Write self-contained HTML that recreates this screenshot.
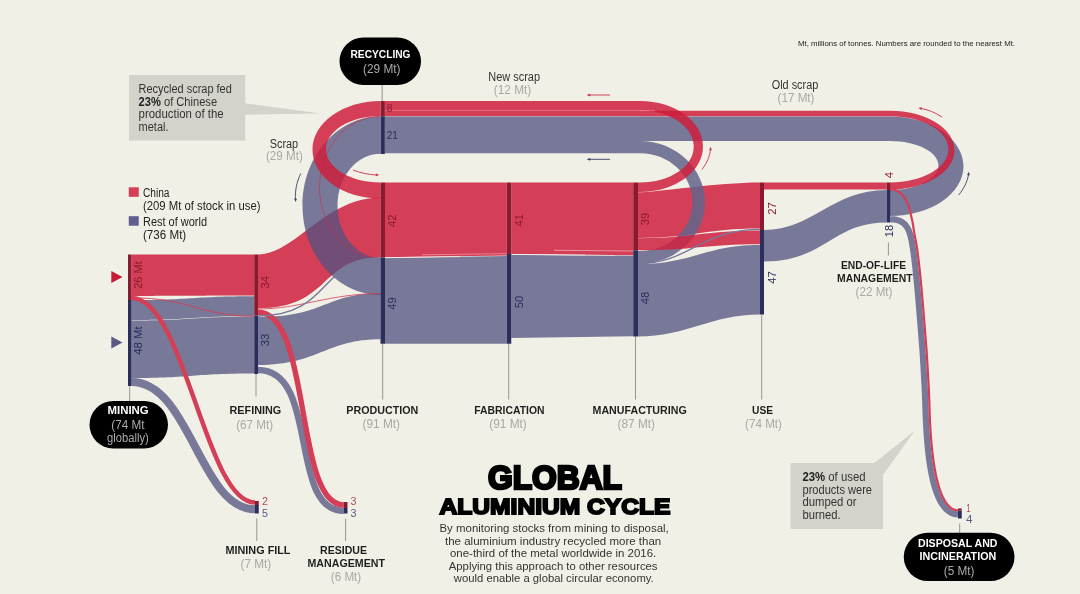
<!DOCTYPE html>
<html><head><meta charset="utf-8"><title>Global aluminium cycle</title>
<style>html,body{margin:0;padding:0;background:#f1f0e6;}svg{display:block;position:absolute;left:0;top:0;will-change:transform;}text{font-family:"Liberation Sans",sans-serif;}</style>
</head><body>
<div style="position:absolute;left:0;top:0;width:1080px;height:594px;background:#f1f0e6;"></div>
<svg width="1080" height="594" viewBox="0 0 1080 594">
<polygon points="245,103.2 320.8,113.6 245,114.7" fill="#d4d3cb"/>
<rect x="129" y="75" width="116.2" height="65.6" fill="#d4d3cb"/>
<polygon points="873.75,463.5 915,430.5 883,475" fill="#d4d3cb"/>
<rect x="790.5" y="463" width="92.5" height="66" fill="#d4d3cb"/>
<line x1="382.2" y1="85" x2="382.2" y2="101" stroke="#96968f" stroke-width="1"/>
<line x1="129.7" y1="386" x2="129.7" y2="401" stroke="#96968f" stroke-width="1"/>
<line x1="256" y1="374" x2="256" y2="396.5" stroke="#96968f" stroke-width="1"/>
<line x1="382.7" y1="343.75" x2="382.7" y2="399.5" stroke="#96968f" stroke-width="1"/>
<line x1="508.7" y1="343.75" x2="508.7" y2="399.5" stroke="#96968f" stroke-width="1"/>
<line x1="635.5" y1="336.5" x2="635.5" y2="399.5" stroke="#96968f" stroke-width="1"/>
<line x1="761.7" y1="314.5" x2="761.7" y2="399.5" stroke="#96968f" stroke-width="1"/>
<line x1="888.4" y1="242.5" x2="888.4" y2="255.5" stroke="#96968f" stroke-width="1"/>
<line x1="256.8" y1="518.5" x2="256.8" y2="541" stroke="#96968f" stroke-width="1"/>
<line x1="345.6" y1="518.5" x2="345.6" y2="541" stroke="#96968f" stroke-width="1"/>
<line x1="959.7" y1="523.5" x2="959.7" y2="533" stroke="#96968f" stroke-width="1"/>
<path d="M131.5,254.5 C192.88,254.5 192.88,254.5 254.25,254.5 L254.25,295.6 C192.88,295.6 192.88,296 131.5,296 Z" fill="#d43f57"/>
<path d="M131.5,300 C192.88,300 192.88,296.2 254.25,296.2 L254.25,316 C192.88,316 192.88,320 131.5,320 Z" fill="#787899"/>
<path d="M131.5,320.6 C192.88,320.6 192.88,316.6 254.25,316.6 L254.25,373.5 C192.88,373.5 192.88,378 131.5,378 Z" fill="#787899"/>
<path d="M258,254.5 C294.75,254.5 325.38,197.5 380.5,197.5 L380.5,257.3 C319.25,257.3 331.5,308.3 258,308.3 Z" fill="#d43f57"/>
<path d="M258,317 C325.38,317 325.38,293.3 380.5,293.3 L380.5,339.3 C325.38,339.3 319.25,365 258,365 Z" fill="#787899"/>
<path d="M385,182.5 L506.75,182.5 L506.75,255.4 L385,257.3 Z" fill="#d43f57"/>
<path d="M385,257.9 L506.75,256 L506.75,343.75 L385,343.75 Z" fill="#787899"/>
<path d="M511.25,182.5 L633.25,182.5 L633.25,255.3 L511.25,254 Z" fill="#d43f57"/>
<path d="M511.25,254.7 L633.25,255.8 L633.25,336.3 L511.25,338 Z" fill="#787899"/>
<path d="M638,192.3 C656.3,192.3 717.3,182.5 760,182.5 L760,228.6 C705.1,228.6 692.9,238 638,238 Z" fill="#d43f57"/>
<path d="M764,182.5 L886.75,182.5 L886.75,189.5 L764,189.5 Z" fill="#d43f57"/>
<path d="M764,230 C813.1,230 831.51,190 886.75,190 L886.75,222.5 C831.51,222.5 825.38,261.5 764,261.5 Z" fill="#787899"/>
<path d="M638,264 C692.9,264 705.1,245 760,245 L760,314.5 C711.2,314.5 686.8,336.5 638,336.5 Z" fill="#787899"/>
<path d="M385,257.7 L460,256.6" fill="none" stroke="#f1f0e6" stroke-width="0.8"/>
<path d="M422,254.8 L506.75,253.6" fill="none" stroke="#eeb0b8" stroke-width="0.6"/>
<path d="M511.25,254.4 L585,255.2" fill="none" stroke="#f1f0e6" stroke-width="0.9"/>
<path d="M585,255.2 L615,255.5" fill="none" stroke="#f1f0e6" stroke-width="0.5"/>
<path d="M554,250.3 L633.25,251" fill="none" stroke="#f0b9c0" stroke-width="0.7"/>
<path d="M640,116.5 L890,116.5 C930.59,116.5 963.5,138.77 963.5,166.25 C963.5,193.73 930.59,216 890,216 L890,216 L890,190 L890,190 C916.79,190 938.5,179.03 938.5,165.5 C938.5,151.97 916.79,141 890,141 L640,141 Z" fill="#525281" fill-opacity="0.76"/>
<path d="M640,110.8 L890,110.8 C925.62,110.8 954.5,128.42 954.5,150.15 C954.5,171.88 925.62,189.5 890,189.5 L890,189.5 L890,182.5 L890,182.5 C922.31,182.5 948.5,167.66 948.5,149.35 C948.5,131.04 922.31,116.2 890,116.2 L640,116.2 Z" fill="#ce1d3c" fill-opacity="0.84"/>
<path d="M640,141 L640,141 C675.9,141 705,168.44 705,202.3 C705,236.16 675.9,263.6 640,263.6 L638,263.6 L638,251 L640,251 C669,251 692.5,229.13 692.5,202.15 C692.5,175.17 669,153.3 640,153.3 L640,153.3 Z" fill="#64648c" fill-opacity="0.86"/>
<path d="M638,238.2 C692.9,238.2 705.1,230.6 760,230.6 L760,244.2 C705.1,244.2 692.9,250.3 638,250.3 Z" fill="#cf2240" fill-opacity="0.86"/>
<path d="M640,101 L640,101 C674.79,101 703,121.37 703,146.5 C703,171.63 674.79,192 640,192 L638,192 L638,182.5 L640,182.5 C669.69,182.5 693.75,166.36 693.75,146.45 C693.75,126.54 669.69,110.4 640,110.4 L640,110.4 Z" fill="#ce1d3c" fill-opacity="0.84"/>
<path d="M384.5,101 L640,101 L640,116.2 L384.5,116.2 Z" fill="#d43f57"/>
<path d="M384.5,110.55 L655,110.55" fill="none" stroke="#e98a98" stroke-width="0.6"/>
<path d="M384.5,116.6 L640,116.6 L640,153.3 L384.5,153.3 Z" fill="#787899"/>
<path d="M380.5,116.2 L380.5,116.2 C337.42,116.2 302.5,156.22 302.5,205.6 C302.5,254.98 337.42,295 380.5,295 L380.5,295 L380.5,257.7 L380.5,257.7 C356.75,257.7 337.5,234.44 337.5,205.75 C337.5,177.06 356.75,153.8 380.5,153.8 L380.5,153.8 Z" fill="#525281" fill-opacity="0.76"/>
<path d="M380.5,116.5 C346.81,116.5 319.5,148.17 319.5,187.25 C319.5,226.33 346.81,258 380.5,258" fill="none" stroke="#c8324a" stroke-width="0.8" stroke-opacity="0.85"/>
<path d="M380.5,101 L380.5,101 C342.94,101 312.5,122.85 312.5,149.8 C312.5,176.75 342.94,198.6 380.5,198.6 L380.5,198.6 L380.5,182.5 L380.5,182.5 C350.4,182.5 326,167.61 326,149.25 C326,130.89 350.4,116 380.5,116 L380.5,116 Z" fill="#ce1d3c" fill-opacity="0.84"/>
<path d="M131.5,382 C190,382 200,509.25 255,509.25" fill="none" stroke="#787899" stroke-width="8"/>
<path d="M131.5,298 C185,298 205,502.5 255,502.5" fill="none" stroke="#d43f57" stroke-width="4.5"/>
<path d="M258,370 C320,370 288,510.75 343.75,510.75" fill="none" stroke="#787899" stroke-width="6.5"/>
<path d="M258,312.3 C312,312.3 294,505 343.75,505" fill="none" stroke="#d43f57" stroke-width="5.4"/>
<path d="M890.25,219.25 L892.04,219.3 L893.72,219.43 L895.3,219.65 L896.77,219.95 L898.15,220.34 L899.44,220.8 L900.64,221.35 L901.76,221.96 L902.8,222.65 L903.76,223.41 L904.65,224.23 L905.47,225.12 L906.23,226.08 L906.92,227.09 L907.57,228.16 L908.16,229.29 L908.7,230.47 L909.2,231.7 L909.66,232.97 L910.08,234.3 L910.47,235.66 L910.84,237.07 L911.18,238.52 L911.5,240 L912.06,242.93 L912.61,246.21 L913.16,249.81 L913.7,253.7 L914.24,257.86 L914.77,262.25 L915.29,266.85 L915.8,271.63 L916.3,276.56 L916.79,281.62 L917.28,286.78 L917.75,292 L918.21,297.27 L918.67,302.55 L919.11,307.81 L919.54,313.04 L919.95,318.19 L920.36,323.25 L920.75,328.18 L921.13,332.96 L921.49,337.56 L921.84,341.95 L922.18,346.11 L922.5,350 L922.68,353.07 L922.86,356.05 L923.04,358.94 L923.21,361.74 L923.37,364.46 L923.53,367.11 L923.68,369.7 L923.83,372.22 L923.98,374.7 L924.11,377.13 L924.25,379.52 L924.38,381.88 L924.5,384.21 L924.61,386.52 L924.73,388.82 L924.83,391.11 L924.93,393.4 L925.03,395.7 L925.12,398.02 L925.21,400.35 L925.29,402.71 L925.36,405.1 L925.43,407.52 L925.5,410 L925.79,417.99 L926.16,425.71 L926.61,433.14 L927.14,440.3 L927.76,447.16 L928.47,453.72 L929.26,459.98 L930.15,465.93 L931.12,471.57 L932.2,476.88 L933.36,481.87 L934.62,486.52 L935.99,490.84 L937.45,494.82 L939.02,498.44 L940.69,501.7 L942.46,504.61 L944.34,507.14 L946.34,509.31 L948.44,511.09 L950.66,512.48 L952.99,513.49 L955.43,514.1 L958,514.3" fill="none" stroke="#787899" stroke-width="6.2"/>
<path d="M131.5,297.8 C190,297.8 200,316.3 254.25,316.3" fill="none" stroke="#d43f57" stroke-width="0.9"/>
<path d="M258,309 C300,309 330,293.5 380.5,293.5" fill="none" stroke="#d43f57" stroke-width="0.8"/>
<path d="M258,316 C331.5,316 319.25,258.3 380.5,258.3" fill="none" stroke="#787899" stroke-width="1.4"/>
<path d="M638,263.6 C690,263.6 700,229.4 760,229.4" fill="none" stroke="#787899" stroke-width="1.3"/>
<path d="M890.25,189.4 C900,189.4 906,197 909.5,208.7 C911.5,216 913.5,226 914.77,236.1 L915.13,237.63 L915.47,239.21 L916.05,242.22 L916.61,245.57 L917.17,249.23 L917.72,253.17 L918.26,257.36 L918.79,261.78 L919.31,266.41 L919.82,271.21 L920.33,276.16 L920.82,281.23 L921.31,286.4 L921.78,291.64 L922.25,296.92 L922.7,302.2 L923.14,307.48 L923.57,312.71 L923.99,317.87 L924.4,322.93 L924.79,327.86 L925.17,332.64 L925.53,337.24 L925.88,341.63 L926.22,345.78 L926.54,349.71 L926.73,352.83 L926.91,355.81 L927.08,358.69 L927.25,361.49 L927.42,364.22 L927.57,366.87 L927.73,369.46 L927.88,371.99 L928.02,374.47 L928.16,376.9 L928.29,379.3 L928.42,381.66 L928.54,384 L928.66,386.32 L928.77,388.63 L928.88,390.93 L928.98,393.23 L929.08,395.54 L929.17,397.86 L929.26,400.2 L929.34,402.57 L929.41,404.97 L929.48,407.41 L929.55,409.86 L929.84,417.82 L930.2,425.49 L930.65,432.87 L931.18,439.96 L931.79,446.76 L932.49,453.25 L933.28,459.43 L934.15,465.29 L935.11,470.82 L936.15,476.02 L937.29,480.88 L938.51,485.39 L939.82,489.54 L941.21,493.32 L942.68,496.72 L944.22,499.73 L945.82,502.35 L947.47,504.57 L949.15,506.39 L950.84,507.83 L952.55,508.9 L954.28,509.65 L956.08,510.1 L958.32,510.26" fill="none" stroke="#d43f57" stroke-width="2.2"/>
<rect x="128" y="254.5" width="3.5" height="45.5" fill="#8a1a30"/>
<rect x="128" y="300" width="3.5" height="86" fill="#2b2e5c"/>
<rect x="254.25" y="254.5" width="3.75" height="61" fill="#8a1a30"/>
<rect x="254.25" y="315.5" width="3.75" height="58.5" fill="#2b2e5c"/>
<rect x="380.5" y="182.5" width="4.5" height="75" fill="#8a1a30"/>
<rect x="380.5" y="257.5" width="4.5" height="86.25" fill="#2b2e5c"/>
<rect x="506.75" y="182.5" width="4.5" height="71.5" fill="#8a1a30"/>
<rect x="506.75" y="254" width="4.5" height="89.75" fill="#2b2e5c"/>
<rect x="633.25" y="182.5" width="4.75" height="67.8" fill="#8a1a30"/>
<rect x="633.25" y="250.3" width="4.75" height="86.2" fill="#2b2e5c"/>
<rect x="760" y="182.5" width="4" height="47.5" fill="#8a1a30"/>
<rect x="760" y="230" width="4" height="84.5" fill="#2b2e5c"/>
<rect x="886.75" y="182.5" width="3.5" height="7.5" fill="#8a1a30"/>
<rect x="886.75" y="190" width="3.5" height="32.5" fill="#2b2e5c"/>
<rect x="380.6" y="101" width="4.2" height="15.2" fill="#8a1a30"/>
<rect x="380.6" y="116.2" width="4.2" height="37.8" fill="#2b2e5c"/>
<rect x="255" y="501" width="3.75" height="4" fill="#8a1a30"/>
<rect x="255" y="505" width="3.75" height="8.5" fill="#2b2e5c"/>
<rect x="343.75" y="502" width="3.75" height="6" fill="#8a1a30"/>
<rect x="343.75" y="508" width="3.75" height="5.5" fill="#2b2e5c"/>
<rect x="958" y="508.5" width="3.75" height="2" fill="#8a1a30"/>
<rect x="958" y="510.5" width="3.75" height="8" fill="#2b2e5c"/>
<rect x="339.5" y="37.5" width="81.5" height="47.5" rx="23.75" ry="23.75" fill="#000"/>
<rect x="89.5" y="401" width="78.5" height="47.5" rx="23.75" ry="23.75" fill="#000"/>
<rect x="903.75" y="532.75" width="110.75" height="48.25" rx="24.12" ry="24.12" fill="#000"/>
<polygon points="111.3,271 122.5,277 111.3,283" fill="#c41a35"/>
<polygon points="111.3,336.5 122.5,342.5 111.3,348.5" fill="#5a5a85"/>
<rect x="128.75" y="187.3" width="10" height="9.5" fill="#d43f57"/>
<rect x="128.75" y="216.2" width="10" height="9.5" fill="#5f6090"/>
<g>
<text x="229.5" y="414.1" font-size="11.4" fill="#1e1e1e" font-weight="bold" textLength="51.75" lengthAdjust="spacingAndGlyphs">REFINING</text>
<text x="346.25" y="414.1" font-size="11.4" fill="#1e1e1e" font-weight="bold" textLength="72" lengthAdjust="spacingAndGlyphs">PRODUCTION</text>
<text x="474.25" y="414.1" font-size="11.4" fill="#1e1e1e" font-weight="bold" textLength="70.25" lengthAdjust="spacingAndGlyphs">FABRICATION</text>
<text x="592.5" y="414.1" font-size="11.4" fill="#1e1e1e" font-weight="bold" textLength="94.25" lengthAdjust="spacingAndGlyphs">MANUFACTURING</text>
<text x="752" y="414.1" font-size="11.4" fill="#1e1e1e" font-weight="bold" textLength="21" lengthAdjust="spacingAndGlyphs">USE</text>
<text x="225.5" y="553.6" font-size="11.4" fill="#1e1e1e" font-weight="bold" textLength="65" lengthAdjust="spacingAndGlyphs">MINING FILL</text>
<text x="320" y="553.6" font-size="11.4" fill="#1e1e1e" font-weight="bold" textLength="47" lengthAdjust="spacingAndGlyphs">RESIDUE</text>
<text x="307.5" y="566.6" font-size="11.4" fill="#1e1e1e" font-weight="bold" textLength="77.5" lengthAdjust="spacingAndGlyphs">MANAGEMENT</text>
<text x="841" y="269.1" font-size="11.4" fill="#1e1e1e" font-weight="bold" textLength="65" lengthAdjust="spacingAndGlyphs">END-OF-LIFE</text>
<text x="837" y="281.5" font-size="11.4" fill="#1e1e1e" font-weight="bold" textLength="75.5" lengthAdjust="spacingAndGlyphs">MANAGEMENT</text>
<text x="350.5" y="58.35" font-size="11.4" fill="#fff" font-weight="bold" textLength="60" lengthAdjust="spacingAndGlyphs">RECYCLING</text>
<text x="107.5" y="414.1" font-size="11.4" fill="#fff" font-weight="bold" textLength="41.25" lengthAdjust="spacingAndGlyphs">MINING</text>
<text x="918" y="546.9" font-size="11.4" fill="#fff" font-weight="bold" textLength="79.5" lengthAdjust="spacingAndGlyphs">DISPOSAL AND</text>
<text x="919.5" y="560.2" font-size="11.4" fill="#fff" font-weight="bold" textLength="76.75" lengthAdjust="spacingAndGlyphs">INCINERATION</text>
<text x="363" y="73" font-size="12" fill="#ababab" textLength="37.5" lengthAdjust="spacingAndGlyphs">(29 Mt)</text>
<text x="111.25" y="428.75" font-size="12" fill="#ababab" textLength="33.25" lengthAdjust="spacingAndGlyphs">(74 Mt</text>
<text x="107" y="442" font-size="12" fill="#ababab" textLength="41.75" lengthAdjust="spacingAndGlyphs">globally)</text>
<text x="943.75" y="575.3" font-size="12" fill="#ababab" textLength="30.75" lengthAdjust="spacingAndGlyphs">(5 Mt)</text>
<text x="236.25" y="428.5" font-size="12" fill="#a8a8a4" textLength="36.75" lengthAdjust="spacingAndGlyphs">(67 Mt)</text>
<text x="362.5" y="428" font-size="12" fill="#a8a8a4" textLength="37.5" lengthAdjust="spacingAndGlyphs">(91 Mt)</text>
<text x="489.25" y="428" font-size="12" fill="#a8a8a4" textLength="37.5" lengthAdjust="spacingAndGlyphs">(91 Mt)</text>
<text x="617.5" y="428" font-size="12" fill="#a8a8a4" textLength="37.5" lengthAdjust="spacingAndGlyphs">(87 Mt)</text>
<text x="745" y="428" font-size="12" fill="#a8a8a4" textLength="37" lengthAdjust="spacingAndGlyphs">(74 Mt)</text>
<text x="240.5" y="568" font-size="12" fill="#a8a8a4" textLength="30.75" lengthAdjust="spacingAndGlyphs">(7 Mt)</text>
<text x="330.75" y="581" font-size="12" fill="#a8a8a4" textLength="30.5" lengthAdjust="spacingAndGlyphs">(6 Mt)</text>
<text x="855.5" y="296" font-size="12" fill="#a8a8a4" textLength="37" lengthAdjust="spacingAndGlyphs">(22 Mt)</text>
<text x="493.75" y="93.5" font-size="12" fill="#a8a8a4" textLength="37.5" lengthAdjust="spacingAndGlyphs">(12 Mt)</text>
<text x="777.5" y="101.6" font-size="12" fill="#a8a8a4" textLength="37" lengthAdjust="spacingAndGlyphs">(17 Mt)</text>
<text x="266" y="160" font-size="12" fill="#a8a8a4" textLength="36.8" lengthAdjust="spacingAndGlyphs">(29 Mt)</text>
<text x="488.25" y="80.75" font-size="12" fill="#333" textLength="51.75" lengthAdjust="spacingAndGlyphs">New scrap</text>
<text x="771.75" y="88.75" font-size="12" fill="#333" textLength="46.5" lengthAdjust="spacingAndGlyphs">Old scrap</text>
<text x="269.7" y="148.2" font-size="12" fill="#333" textLength="28.5" lengthAdjust="spacingAndGlyphs">Scrap</text>
<text x="143" y="196.75" font-size="12" fill="#222" textLength="26.5" lengthAdjust="spacingAndGlyphs">China</text>
<text x="143" y="210" font-size="12" fill="#222" textLength="117.5" lengthAdjust="spacingAndGlyphs">(209 Mt of stock in use)</text>
<text x="143" y="225.5" font-size="12" fill="#222" textLength="64" lengthAdjust="spacingAndGlyphs">Rest of world</text>
<text x="143" y="238.75" font-size="12" fill="#222" textLength="43.25" lengthAdjust="spacingAndGlyphs">(736 Mt)</text>
<text x="138.6" y="93.1" font-size="12" fill="#333" textLength="93.2" lengthAdjust="spacingAndGlyphs">Recycled scrap fed</text>
<text x="138.6" y="105.75" font-size="12" fill="#333" textLength="78.5" lengthAdjust="spacingAndGlyphs"><tspan font-weight="bold" fill="#222">23%</tspan> of Chinese</text>
<text x="138.6" y="118.4" font-size="12" fill="#333" textLength="85.1" lengthAdjust="spacingAndGlyphs">production of the</text>
<text x="138.6" y="131" font-size="12" fill="#333" textLength="29.9" lengthAdjust="spacingAndGlyphs">metal.</text>
<text x="802.5" y="480.5" font-size="12" fill="#333" textLength="63" lengthAdjust="spacingAndGlyphs"><tspan font-weight="bold" fill="#222">23%</tspan> of used</text>
<text x="802.5" y="493.5" font-size="12" fill="#333" textLength="69.5" lengthAdjust="spacingAndGlyphs">products were</text>
<text x="802.5" y="506" font-size="12" fill="#333" textLength="54" lengthAdjust="spacingAndGlyphs">dumped or</text>
<text x="802.5" y="518.5" font-size="12" fill="#333" textLength="38" lengthAdjust="spacingAndGlyphs">burned.</text>
<text x="798" y="45.75" font-size="7.6" fill="#222" textLength="217" lengthAdjust="spacingAndGlyphs">Mt, millions of tonnes. Numbers are rounded to the nearest Mt.</text>
<text transform="translate(142.3,275) rotate(-90)" x="-13.75" y="0" font-size="11.5" fill="#8a1a30" textLength="27.5" lengthAdjust="spacingAndGlyphs">26 Mt</text>
<text transform="translate(142.3,340.6) rotate(-90)" x="-14.25" y="0" font-size="11.5" fill="#2b2e5c" textLength="28.5" lengthAdjust="spacingAndGlyphs">48 Mt</text>
<text transform="translate(269.2,282.3) rotate(-90)" x="-6.25" y="0" font-size="11.5" fill="#8a1a30" textLength="12.5" lengthAdjust="spacingAndGlyphs">34</text>
<text transform="translate(269.2,340) rotate(-90)" x="-6.25" y="0" font-size="11.5" fill="#2b2e5c" textLength="12.5" lengthAdjust="spacingAndGlyphs">33</text>
<text transform="translate(396.2,220.8) rotate(-90)" x="-6.25" y="0" font-size="11.5" fill="#8a1a30" textLength="12.5" lengthAdjust="spacingAndGlyphs">42</text>
<text transform="translate(396.2,303.5) rotate(-90)" x="-6.25" y="0" font-size="11.5" fill="#2b2e5c" textLength="12.5" lengthAdjust="spacingAndGlyphs">49</text>
<text transform="translate(522.5,220.3) rotate(-90)" x="-6.25" y="0" font-size="11.5" fill="#8a1a30" textLength="12.5" lengthAdjust="spacingAndGlyphs">41</text>
<text transform="translate(522.5,302) rotate(-90)" x="-6.25" y="0" font-size="11.5" fill="#2b2e5c" textLength="12.5" lengthAdjust="spacingAndGlyphs">50</text>
<text transform="translate(649,219) rotate(-90)" x="-6.25" y="0" font-size="11.5" fill="#8a1a30" textLength="12.5" lengthAdjust="spacingAndGlyphs">39</text>
<text transform="translate(649,298) rotate(-90)" x="-6.25" y="0" font-size="11.5" fill="#2b2e5c" textLength="12.5" lengthAdjust="spacingAndGlyphs">48</text>
<text transform="translate(776,208.5) rotate(-90)" x="-6.25" y="0" font-size="11.5" fill="#8a1a30" textLength="12.5" lengthAdjust="spacingAndGlyphs">27</text>
<text transform="translate(776,277.5) rotate(-90)" x="-6.25" y="0" font-size="11.5" fill="#2b2e5c" textLength="12.5" lengthAdjust="spacingAndGlyphs">47</text>
<text transform="translate(892.5,175) rotate(-90)" x="-3.15" y="0" font-size="11.5" fill="#8a1a30" textLength="6.3" lengthAdjust="spacingAndGlyphs">4</text>
<text transform="translate(892.5,231) rotate(-90)" x="-6.25" y="0" font-size="11.5" fill="#2b2e5c" textLength="12.5" lengthAdjust="spacingAndGlyphs">18</text>
<text x="386.75" y="112.1" font-size="11.5" fill="#8a1a30" textLength="5.75" lengthAdjust="spacingAndGlyphs">8</text>
<text x="386.75" y="139.3" font-size="11.5" fill="#2b2e5c" textLength="11.25" lengthAdjust="spacingAndGlyphs">21</text>
<text x="262" y="504.8" font-size="11.5" fill="#a8505f" textLength="6" lengthAdjust="spacingAndGlyphs">2</text>
<text x="262" y="516.6" font-size="11.5" fill="#5a5c86" textLength="6" lengthAdjust="spacingAndGlyphs">5</text>
<text x="350.5" y="504.8" font-size="11.5" fill="#a8505f" textLength="6" lengthAdjust="spacingAndGlyphs">3</text>
<text x="350.5" y="516.6" font-size="11.5" fill="#5a5c86" textLength="6" lengthAdjust="spacingAndGlyphs">3</text>
<text x="966.3" y="511.8" font-size="11.5" fill="#a8505f" textLength="4.5" lengthAdjust="spacingAndGlyphs">1</text>
<text x="966" y="523.3" font-size="11.5" fill="#5a5c86" textLength="6.5" lengthAdjust="spacingAndGlyphs">4</text>
<text x="488" y="488.5" font-size="34" font-weight="bold" fill="#000" stroke="#000" stroke-width="2.7" stroke-linejoin="miter" textLength="134" lengthAdjust="spacingAndGlyphs">GLOBAL</text>
<text x="439.5" y="513.9" font-size="22.6" font-weight="bold" fill="#000" stroke="#000" stroke-width="1.9" stroke-linejoin="miter" textLength="231" lengthAdjust="spacingAndGlyphs">ALUMINIUM CYCLE</text>
<text x="439.5" y="532.25" font-size="11.2" fill="#333" textLength="229.25" lengthAdjust="spacingAndGlyphs">By monitoring stocks from mining to disposal,</text>
<text x="445" y="544.75" font-size="11.2" fill="#333" textLength="216.25" lengthAdjust="spacingAndGlyphs">the aluminium industry recycled more than</text>
<text x="450" y="557.25" font-size="11.2" fill="#333" textLength="206.25" lengthAdjust="spacingAndGlyphs">one-third of the metal worldwide in 2016.</text>
<text x="448.75" y="569.75" font-size="11.2" fill="#333" textLength="208.75" lengthAdjust="spacingAndGlyphs">Applying this approach to other resources</text>
<text x="453.75" y="582.25" font-size="11.2" fill="#333" textLength="200" lengthAdjust="spacingAndGlyphs">would enable a global circular economy.</text>
<path d="M610,95 L588.5,95" fill="none" stroke="#c8324a" stroke-width="0.9"/>
<polygon points="0.3,0 -3.2,-1.4 -3.2,1.4" fill="#c8324a" transform="translate(587,95) rotate(180)"/>
<path d="M610,159.3 L588.5,159.3" fill="none" stroke="#3a3c66" stroke-width="0.9"/>
<polygon points="0.3,0 -3.2,-1.4 -3.2,1.4" fill="#3a3c66" transform="translate(587,159.3) rotate(180)"/>
<path d="M300.8,173.5 C296.5,182 295,191 295.4,200" fill="none" stroke="#3a3c66" stroke-width="0.9"/>
<polygon points="0.3,0 -3.2,-1.4 -3.2,1.4" fill="#3a3c66" transform="translate(295.5,201.8) rotate(92)"/>
<path d="M353,170 C360,172.8 368,174.6 376.5,175" fill="none" stroke="#c8324a" stroke-width="0.9"/>
<polygon points="0.3,0 -3.2,-1.4 -3.2,1.4" fill="#c8324a" transform="translate(379,175.1) rotate(4)"/>
<path d="M702,169.5 C707,163 710,156 710.5,149" fill="none" stroke="#c8324a" stroke-width="0.9"/>
<polygon points="0.3,0 -3.2,-1.4 -3.2,1.4" fill="#c8324a" transform="translate(710.6,147) rotate(-88)"/>
<path d="M942,117 C935,112.5 928,109.5 920.5,108.4" fill="none" stroke="#c8324a" stroke-width="0.9"/>
<polygon points="0.3,0 -3.2,-1.4 -3.2,1.4" fill="#c8324a" transform="translate(918.6,108) rotate(190)"/>
<path d="M958.7,195 C964,188.5 967.5,181.5 968.6,174" fill="none" stroke="#3a3c66" stroke-width="0.9"/>
<polygon points="0.3,0 -3.2,-1.4 -3.2,1.4" fill="#3a3c66" transform="translate(968.8,172) rotate(-82)"/>
</g>
</svg></body></html>
